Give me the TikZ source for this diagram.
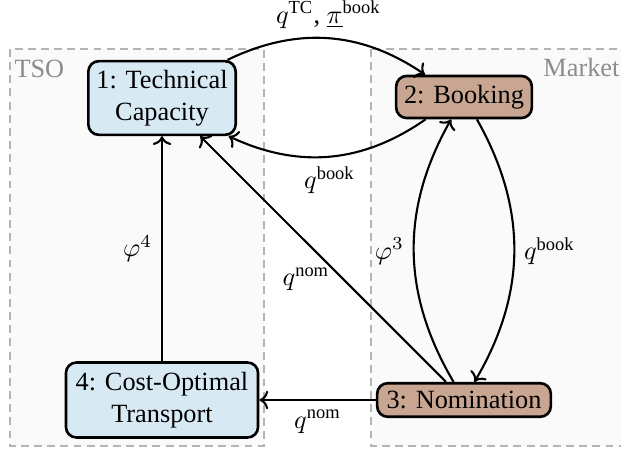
\documentclass[tikz,border=0pt]{standalone}
\usepackage{fontspec}
\setmainfont{Liberation Serif}
\usepackage{tikz}
\usetikzlibrary{positioning,arrows.meta}
\definecolor{tsoblue}{HTML}{D7E9F2}
\definecolor{marketbrown}{HTML}{C8A692}
\definecolor{regionfill}{HTML}{FAFAFA}
\definecolor{regionline}{HTML}{B4B4B4}
\definecolor{regiontext}{HTML}{8C8C8C}

\begin{document}
\begin{tikzpicture}[x=0.38pt, y=-0.38pt,
        stage/.style={draw, rounded corners=4pt, line width=1pt, align=center, inner sep=3pt},
        tso/.style={stage, fill=tsoblue},
        market/.style={stage, fill=marketbrown},
        region/.style={draw=regionline, fill=regionfill, dash pattern=on 3pt off 2pt, line width=0.4pt},
        flow/.style={->, line width=0.8pt}]
        \useasboundingbox (0,0) rectangle (621,451);

        % the two sides
        \draw [region] (10,49) rectangle (264,446);
        \draw [region] (371,49) rectangle (630,446);
        \node [anchor=base west, inner sep=0pt, text=regiontext] (tsolabel) at (14,78) {TSO};
        \node [anchor=base east, inner sep=0pt, text=regiontext] (marketlabel) at (620,77) {Market};

        % stages
        \node [tso, minimum width=56pt, minimum height=28pt] (tc) at (162,98) {1: Technical\\Capacity};
        \node [market, minimum width=51pt, minimum height=16pt] (book) at (464,97) {2: Booking};
        \node [market, minimum width=66pt] (nom) at (464,400) {3: Nomination};
        \node [tso, minimum width=73pt, minimum height=28.5pt] (cot) at (162,400) {4: Cost-Optimal\\Transport};

        % flows between the stages
        \draw [flow] (tc) to[bend left=30] node[above] (lbltc) {$q^{\mathrm{TC}}$, $\underline{\pi}^{\mathrm{book}}$} (book);
        \draw [flow] (book) to[bend left=30] node[below] (lblbooka) {$q^{\mathrm{book}}$} (tc);
        \draw [flow] (nom) to[bend left=30] node[left] (lblphithree) {$\varphi^3$} (book);
        \draw [flow] (book) to[bend left=30] node[right] (lblbookb) {$q^{\mathrm{book}}$} (nom);
        \draw [flow] (nom) -- node[pos=0.47, below left, inner sep=0pt] (lblnoma) {$q^{\mathrm{nom}}$} (tc);
        \draw [flow] (nom) -- node[below] (lblnomb) {$q^{\mathrm{nom}}$} (cot);
        \draw [flow] (cot) -- node[left] (lblphifour) {$\varphi^4$} (tc);

\end{tikzpicture}
\end{document}
